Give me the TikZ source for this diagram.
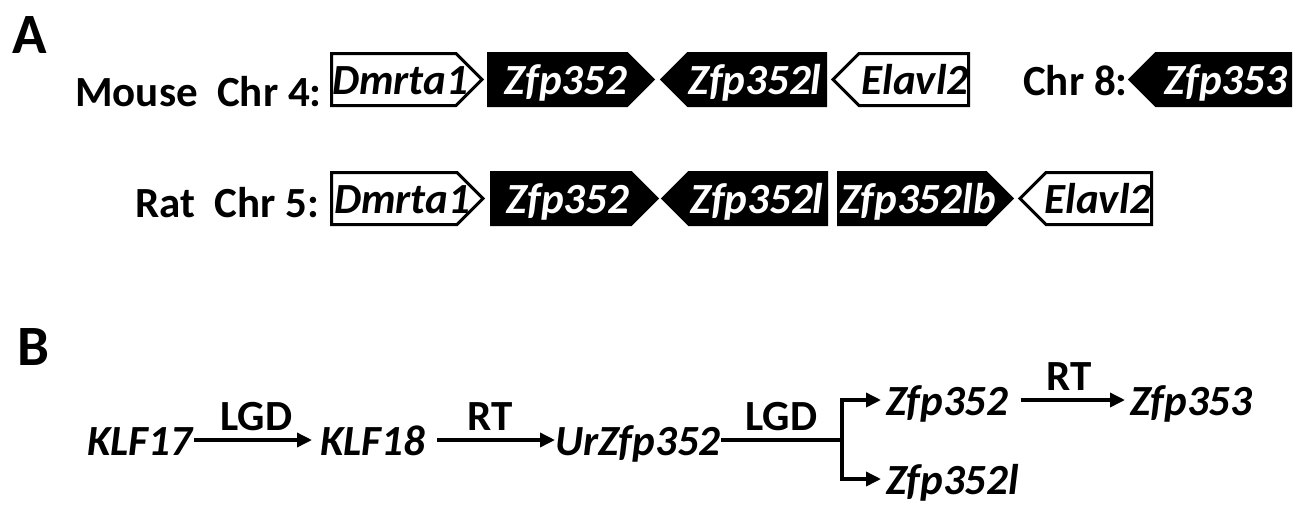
\documentclass[tikz,border=0pt]{standalone}
\usepackage{fontspec}
\setmainfont{Carlito}
\usetikzlibrary{arrows.meta}
\pgfdeclarelayer{back}
\pgfsetlayers{back,main}

% gene drawn as a box with a pointed end on the right
% #1 name, #2 box style, #3 text colour, #4 left x, #5 tip x, #6 centre y, #7 label x, #8 label
\newcommand{\geneR}[8]{%
  \path[#2] (#4,#6-26) -- (#5-26,#6-26) -- (#5,#6) -- (#5-26,#6+26) -- (#4,#6+26) -- cycle;
  \coordinate (#1-w) at (#4,#6);
  \coordinate (#1-e) at (#5,#6);
  \node[gene, text=#3] (#1) at (#7,#6+14.5) {#8};
}
% gene drawn as a box with a pointed end on the left
% #1 name, #2 box style, #3 text colour, #4 tip x, #5 right x, #6 centre y, #7 label x, #8 label
\newcommand{\geneL}[8]{%
  \path[#2] (#5,#6-26) -- (#4+26,#6-26) -- (#4,#6) -- (#4+26,#6+26) -- (#5,#6+26) -- cycle;
  \coordinate (#1-w) at (#4,#6);
  \coordinate (#1-e) at (#5,#6);
  \node[gene, text=#3] (#1) at (#7,#6+14.5) {#8};
}

\tikzset{
  panel/.style={font=\fontsize{57}{57}\selectfont\bfseries, inner sep=0pt, anchor=base west},
  tag/.style={font=\fontsize{43}{43}\selectfont\bfseries, inner sep=0pt, anchor=base west},
  gene/.style={font=\fontsize{43}{43}\selectfont\bfseries\itshape, inner sep=0pt, anchor=base},
  openbox/.style={draw=black, fill=white, line width=3pt, line join=miter},
  solidbox/.style={draw=black, fill=black, line width=3pt, line join=miter},
  link/.style={draw=black, line width=3pt},
  thinbar/.style={draw=black, line width=4pt},
  bar/.style={draw=black, line width=10pt},
  sym/.style={font=\fontsize{43}{43}\selectfont\bfseries\itshape, inner sep=0pt,
    text height=30pt, text depth=0pt, anchor=base west},
  arr/.style={line width=3.5pt, line join=miter, -{Triangle[length=15pt,width=14pt]}},
  plain/.style={line width=3.5pt},
  lbl/.style={font=\fontsize{43}{43}\selectfont\bfseries, inner sep=0pt,
    text depth=0pt, above=8pt}
}

\begin{document}
\begin{tikzpicture}[x=1pt,y=-1pt]
\fill[white] (0,0) rectangle (1298,504);
\useasboundingbox (0,0) rectangle (1298,504);

% ---- A: gene neighbourhoods ----
\node[panel] (A) at (12,53) {A};
\node[tag] (mouse) at (75,106) {Mouse\ \ Chr 4:};
\node[tag] (chr8) at (1023,95) {Chr 8:};
\node[tag] (rat) at (135,217) {Rat\ \ Chr 5:};

\geneR{mdm}{openbox}{black}{331.5}{482}{79.5}{400}{Dmrta1}
\geneR{mz2}{solidbox}{white}{488.5}{653}{79.5}{566}{Zfp352}
\geneL{mz2l}{solidbox}{white}{662}{825.5}{79.5}{755}{Zfp352l}
\geneL{mel}{openbox}{black}{833}{968.5}{79.5}{915}{Elavl2}
\geneL{mz3}{solidbox}{white}{1130}{1290.5}{79.5}{1226}{Zfp353}

\geneR{rdm}{openbox}{black}{331.5}{483}{198.5}{402}{Dmrta1}
\geneR{rz2}{solidbox}{white}{491.5}{657}{198.5}{568}{Zfp352}
\geneL{rz2l}{solidbox}{white}{663}{826.5}{198.5}{757}{Zfp352l}
\geneR{rz2lb}{solidbox}{white}{838.5}{1012}{198.5}{918}{Zfp352lb}
\geneL{rel}{openbox}{black}{1020}{1151.5}{198.5}{1098}{Elavl2}

\begin{pgfonlayer}{back}
  \draw[link, shorten <=-3pt] (mdm-e) -- (mz2-w);
  \draw[bar] (mz2-e) -- (mz2l-w);
  \draw[thinbar, shorten >=-4pt] (mz2l-e) -- (mel-w);
  \draw[link, shorten <=-3pt] (rdm-e) -- (rz2-w);
  \draw[bar] (rz2-e) -- (rz2l-w);
  \draw[thinbar] (rz2l-e) -- (rz2lb-w);
  \draw[bar, shorten >=-5pt] (rz2lb-e) -- (rel-w);
\end{pgfonlayer}

% ---- B: proposed origin of the family ----
\node[panel] (B) at (17,365) {B};
\node[sym] (k17) at (87,455) {KLF17};
\node[sym] (k18) at (320,455) {KLF18};
\node[sym] (ur) at (555,455) {UrZfp352};
\coordinate (fork) at (842,440);
\node[sym] (z352) at (886,415) {Zfp352};
\node[sym] (z353) at (1130,415) {Zfp353};
\node[sym] (z352l) at (886,494) {Zfp352l};

\draw[arr, shorten <=2pt, shorten >=8pt] (k17) -- (k18) node[lbl, midway] {LGD};
\draw[arr, shorten <=12pt] (k18) -- (ur) node[lbl, midway] {RT};
\draw[plain] (ur) -- (fork) node[lbl, midway] {LGD};
\draw[arr, shorten >=5pt] (fork) |- (z352);
\draw[arr, shorten >=5pt] (fork) |- (z352l);
\draw[arr, shorten <=12pt, shorten >=5pt] (z352) -- (z353) node[lbl, midway] {RT};
\end{tikzpicture}
\end{document}
